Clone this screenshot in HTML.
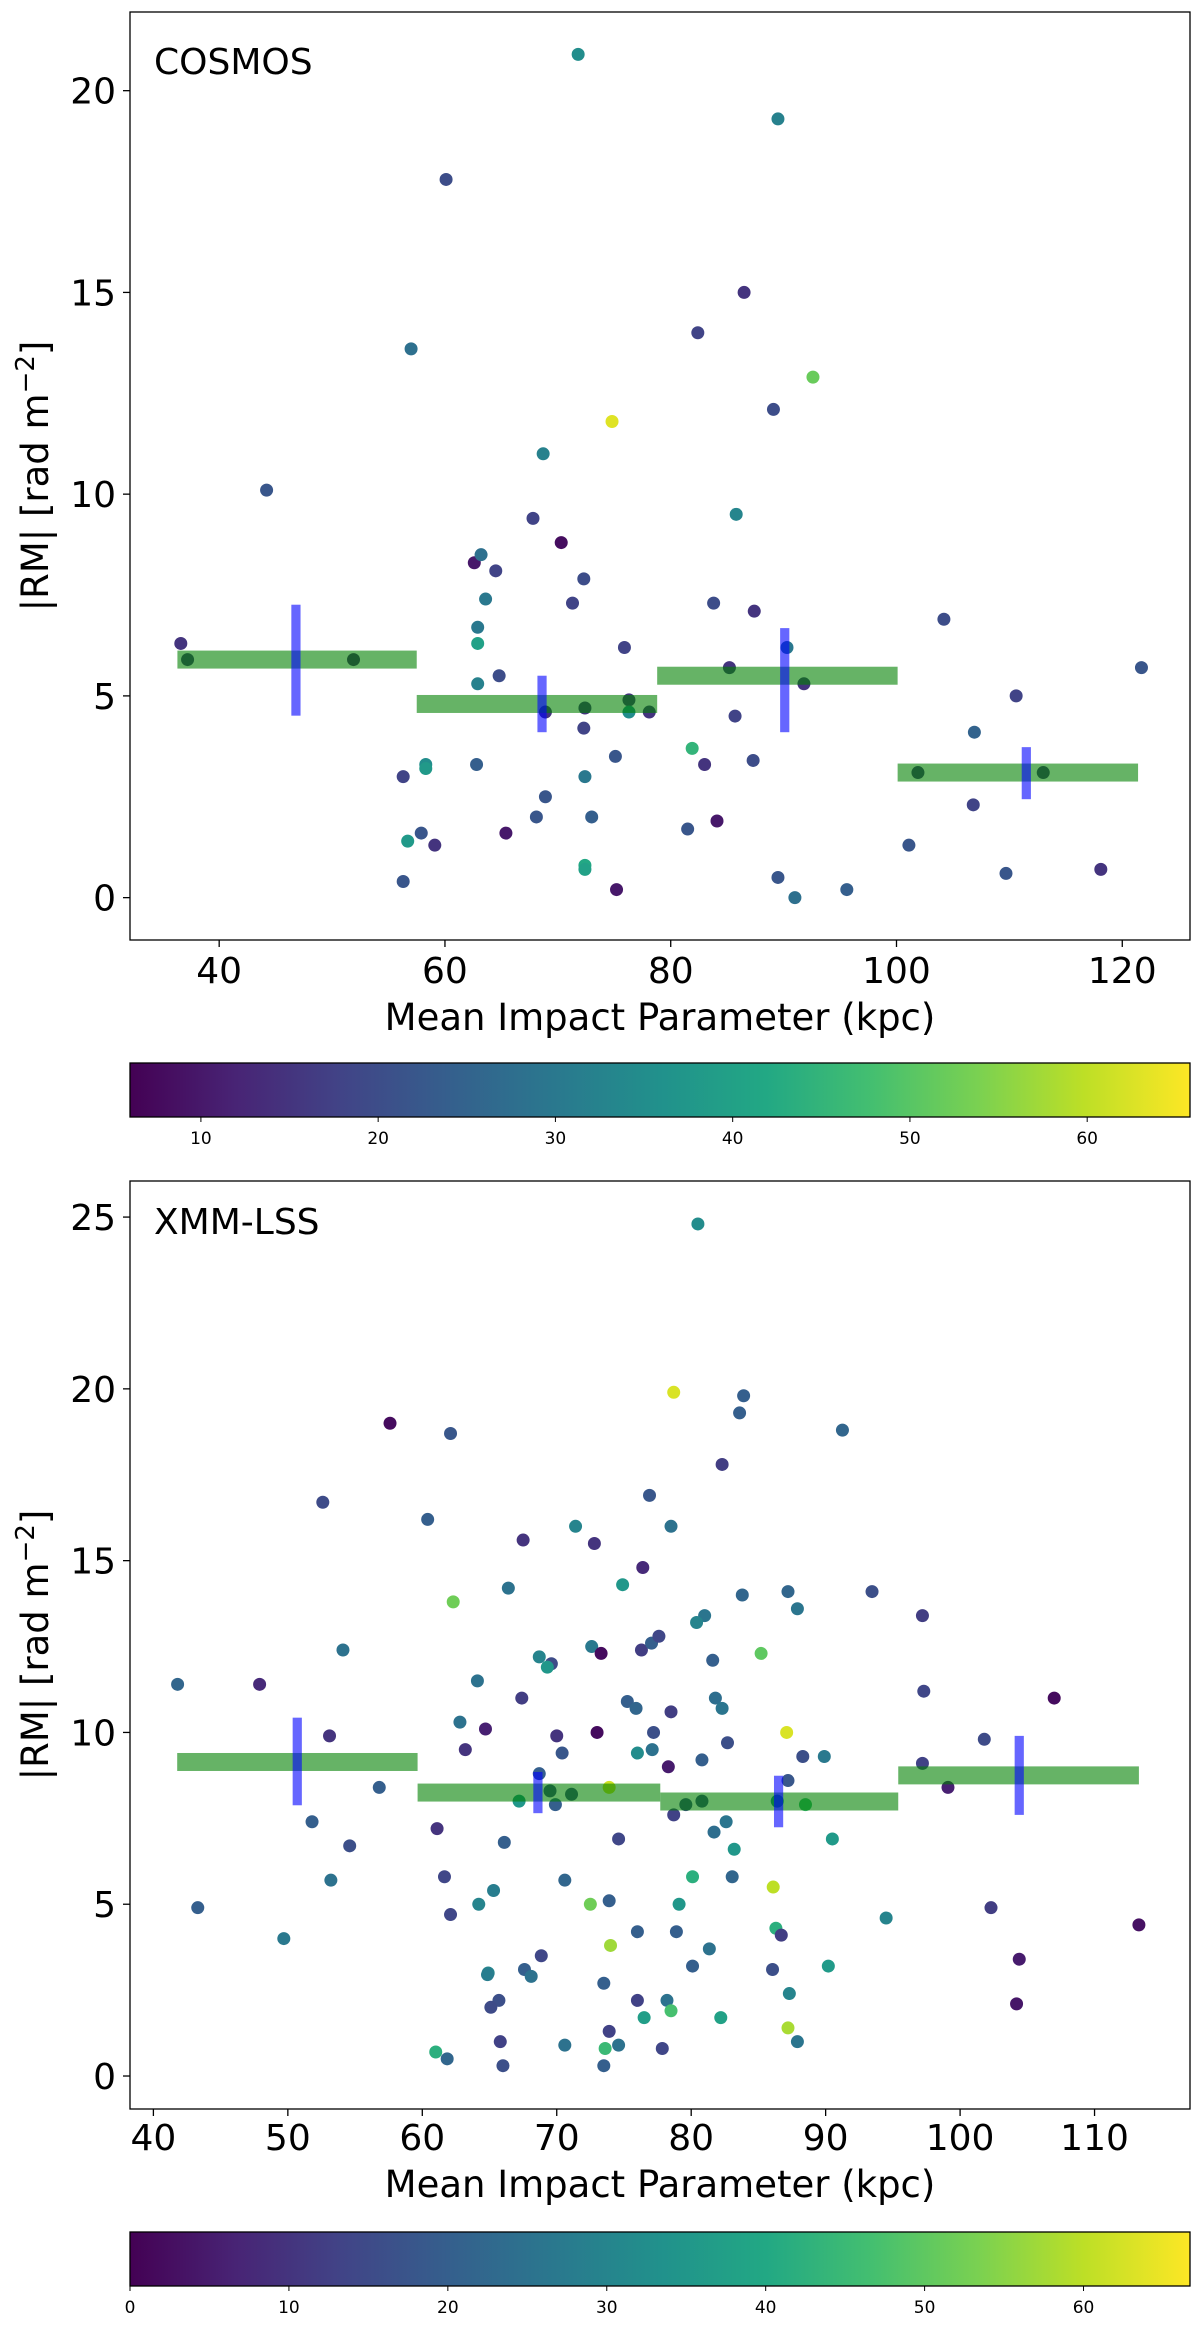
<!DOCTYPE html>
<html><head><meta charset="utf-8"><style>
html,body{margin:0;padding:0;background:#fff;}
svg{display:block;font-family:"DejaVu Sans","Liberation Sans",sans-serif;}
</style></head><body>
<svg id="fig" width="1200" height="2331" viewBox="0 0 1200 2331" xmlns="http://www.w3.org/2000/svg"></svg>
<script>
// ---------- COSMOS data ----------
const cosmosX = [36.6,37.2,44.2,51.9,56.3,56.3,56.7,57.0,57.9,58.3,58.3,59.1,60.1,62.6,63.2,62.9,62.9,62.9,62.8,63.6,64.5,64.8,65.4,67.8,68.1,68.7,68.9,68.9,70.3,71.3,71.8,72.3,72.3,72.4,72.4,72.4,72.4,73.0,74.8,75.1,75.2,75.9,76.3,76.3,78.1,81.9,81.5,82.4,83.0,83.8,84.1,85.2,85.7,85.8,86.5,87.3,87.4,89.1,89.5,89.5,90.3,91.0,91.8,92.6,95.6,101.1,101.9,104.2,106.8,106.9,109.7,110.6,113.0,118.1,121.7];
const cosmosRM = [6.3,5.9,10.1,5.9,3.0,0.4,1.4,13.6,1.6,3.3,3.2,1.3,17.8,8.3,8.5,6.7,6.3,5.3,3.3,7.4,8.1,5.5,1.6,9.4,2.0,11.0,4.6,2.5,8.8,7.3,20.9,7.9,4.2,4.7,3.0,0.8,0.7,2.0,11.8,3.5,0.2,6.2,4.9,4.6,4.6,3.7,1.7,14.0,3.3,7.3,1.9,5.7,4.5,9.5,15.0,3.4,7.1,12.1,19.3,0.5,6.2,0.0,5.3,12.9,0.2,1.3,3.1,6.9,2.3,4.1,0.6,5.0,3.1,0.7,5.7];
const cosmosC = [15,15,22,12,18,22,38,28,22,35,38,15,20,10,28,30,40,32,24,30,18,20,10,18,22,32,15,22,8,18,35,20,18,15,30,42,40,24,63,22,10,18,15,35,15,45,22,18,15,20,10,15,18,33,15,20,15,20,32,22,30,28,15,52,24,22,15,20,18,25,22,18,15,15,22];
const cosmosBinLo = [36.3,57.5,78.8,100.1];
const cosmosBinHi = [57.5,78.8,100.1,121.4];
const cosmosBinMean = [5.9,4.8,5.5,3.1];
const cosmosErrX = [46.8,68.6,90.1,111.5];
const cosmosErrLo = [4.51,4.1,4.1,2.44];
const cosmosErrHi = [7.26,5.5,6.68,3.73];
const cosmosXTicks = [40,60,80,100,120];
const cosmosYTicks = [0,5,10,15,20];
const cosmosCTicks = [10,20,30,40,50,60];

// ---------- XMM-LSS data ----------
const xmmX = [57.6,62.1,52.6,60.4,76.9,78.5,71.4,67.5,72.8,76.4,74.9,66.4,62.3,54.1,72.6,73.3,76.3,77.05,77.6,68.7,69.6,69.3,41.8,47.9,64.1,67.4,75.25,75.9,78.5,62.8,64.7,70.0,73.0,77.2,53.1,63.2,70.4,76.0,77.1,78.3,68.7,69.5,71.1,73.9,67.2,69.9,56.8,51.8,61.1,66.1,74.6,54.6,53.2,61.65,70.6,65.3,64.2,72.5,73.9,43.3,62.1,49.7,76.0,74.0,68.85,64.9,64.85,67.6,68.1,73.5,65.7,65.1,76.0,76.5,78.2,78.5,73.9,65.8,61.0,61.85,70.6,73.6,74.6,77.85,66.0,73.5,80.5,78.7,83.9,83.6,91.25,82.3,83.8,87.2,93.45,87.9,97.2,81.0,80.4,81.6,85.2,81.8,82.3,87.1,82.7,80.8,88.3,89.9,97.3,107.0,101.8,97.2,99.1,87.2,79.6,80.8,86.4,88.5,78.7,82.6,81.7,83.2,90.5,80.1,83.05,86.1,79.1,78.9,86.3,86.7,94.5,102.3,113.3,81.35,80.1,86.05,90.2,104.4,87.3,104.2,82.2,87.2,87.9];
const xmmRM = [19.0,18.7,16.7,16.2,16.9,16.0,16.0,15.6,15.5,14.8,14.3,14.2,13.8,12.4,12.5,12.3,12.4,12.6,12.8,12.2,12.0,11.9,11.4,11.4,11.5,11.0,10.9,10.7,10.6,10.3,10.1,9.9,10.0,10.0,9.9,9.5,9.4,9.4,9.5,9.0,8.8,8.3,8.2,8.4,8.0,7.9,8.4,7.4,7.2,6.8,6.9,6.7,5.7,5.8,5.7,5.4,5.0,5.0,5.1,4.9,4.7,4.0,4.2,3.8,3.5,3.0,2.95,3.1,2.9,2.7,2.2,2.0,2.2,1.7,2.2,1.9,1.3,1.0,0.7,0.5,0.9,0.8,0.9,0.8,0.3,0.3,24.8,19.9,19.8,19.3,18.8,17.8,14.0,14.1,14.1,13.6,13.4,13.4,13.2,12.1,12.3,11.0,10.7,10.0,9.7,9.2,9.3,9.3,11.2,11.0,9.8,9.1,8.4,8.6,7.9,8.0,8.0,7.9,7.6,7.4,7.1,6.6,6.9,5.8,5.8,5.5,5.0,4.2,4.3,4.1,4.6,4.9,4.4,3.7,3.2,3.1,3.2,3.4,2.4,2.1,1.7,1.4,1.0];
const xmmC = [2,18,15,20,18,25,30,10,10,8,35,25,52,25,27,2,12,20,14,30,15,35,22,8,25,12,20,22,12,25,6,10,2,16,10,10,18,32,25,5,20,15,15,62,35,20,20,20,10,20,14,16,25,14,22,28,30,52,20,20,14,27,20,57,14,30,28,20,25,20,16,15,13,37,25,47,13,13,42,22,25,45,25,14,16,20,32,63,20,20,22,12,22,22,16,26,12,26,30,20,50,24,26,63,16,20,16,27,14,2,15,13,6,18,15,15,32,45,13,26,24,35,36,42,22,60,35,20,42,12,30,12,3,25,20,16,36,5,30,4,38,58,26];
const xmmBinLo = [41.77,59.65,77.7,95.4];
const xmmBinHi = [59.65,77.7,95.4,113.3];
const xmmBinMean = [9.14,8.25,7.99,8.75];
const xmmErrX = [50.7,68.6,86.5,104.4];
const xmmErrLo = [7.88,7.65,7.24,7.6];
const xmmErrHi = [10.43,8.85,8.74,9.9];
const xmmXTicks = [40,50,60,70,80,90,100,110];
const xmmYTicks = [0,5,10,15,20,25];
const xmmCTicks = [0,10,20,30,40,50,60];

// ---------- helpers ----------
const NS = "http://www.w3.org/2000/svg";
const svg = document.getElementById('fig');
function mk(tag, attrs, parent){
  const e = document.createElementNS(NS, tag);
  for (const k in attrs) e.setAttribute(k, attrs[k]);
  (parent||svg).appendChild(e);
  return e;
}
const VIR = ["#440154","#482475","#414487","#355f8d","#2a788e","#21918c","#22a884","#44bf70","#7ad151","#bddf26","#fde725"];
function hex2rgb(h){return [parseInt(h.substr(1,2),16),parseInt(h.substr(3,2),16),parseInt(h.substr(5,2),16)];}
function viridis(t){
  t=Math.max(0,Math.min(1,t));
  const p=t*10, i=Math.min(9,Math.floor(p)), f=p-i;
  const a=hex2rgb(VIR[i]), b=hex2rgb(VIR[i+1]);
  return "rgb("+a.map((v,k)=>Math.round(v+(b[k]-v)*f)).join(",")+")";
}

function panel(cfg){
  const L=130,R=1190,T=cfg.top,B=cfg.bottom;
  const sx=v=>L+(v-cfg.xmin)/(cfg.xmax-cfg.xmin)*(R-L);
  const sy=v=>B-(v-cfg.ymin)/(cfg.ymax-cfg.ymin)*(B-T);
  const g=mk('g',{});
  
  

  // points
  const pts=mk('g',{},g);
  
  
  const n=Math.min(cfg.xs.length,cfg.ys.length,cfg.cs.length);
  for(let i=0;i<n;i++){
    const c=mk('circle',{cx:sx(cfg.xs[i]),cy:sy(cfg.ys[i]),r:6.5,fill:viridis((cfg.cs[i]-cfg.cmin)/(cfg.cmax-cfg.cmin))},pts);
    
    
  }
  // bin bars
  for(let i=0;i<cfg.binLo.length;i++){
    const r=mk('rect',{x:sx(cfg.binLo[i]),y:sy(cfg.binMean[i])-9,width:sx(cfg.binHi[i])-sx(cfg.binLo[i]),height:18,fill:'#008000','fill-opacity':0.6},g);
    
    
  }
  for(let i=0;i<cfg.errX.length;i++){
    const r=mk('rect',{x:sx(cfg.errX[i])-4.6,y:sy(cfg.errHi[i]),width:9.2,height:sy(cfg.errLo[i])-sy(cfg.errHi[i]),fill:'#0000ff','fill-opacity':0.6},g);
    
    
  }
  // frame
  const fr=mk('rect',{x:L,y:T,width:R-L,height:B-T,fill:'none',stroke:'#000','stroke-width':1.3},g);
  
  
  // x ticks
  cfg.xticks.forEach(v=>{
    const x=sx(v);
    const tk=mk('line',{x1:x,x2:x,y1:B,y2:B+7,stroke:'#000','stroke-width':1.3},g);
    
    
    const t=mk('text',{x:x,y:cfg.xTickBase,'text-anchor':'middle','font-size':36},g);
    t.textContent=v;
    
    
  });
  cfg.yticks.forEach(v=>{
    const y=sy(v);
    const tk=mk('line',{x1:L-7,x2:L,y1:y,y2:y,stroke:'#000','stroke-width':1.3},g);
    
    
    const t=mk('text',{x:L-14,y:y+13,'text-anchor':'end','font-size':36},g);
    t.textContent=v;
    
    
  });
  // labels
  const xl=mk('text',{x:(L+R)/2,y:cfg.xLabelBase,'text-anchor':'middle','font-size':37},g);
  xl.textContent='Mean Impact Parameter (kpc)';
  
  
  const cy=(T+B)/2;
  const yl=mk('text',{x:0,y:0,'text-anchor':'middle','font-size':37,transform:'translate(48,'+cy+') rotate(-90)'},g);
  yl.innerHTML='|RM| [rad m<tspan dy="-14" font-size="26">−2</tspan><tspan dy="14">]</tspan>';
  
  
  const pl=mk('text',{x:154,y:cfg.titleBase,'font-size':36},g);
  pl.textContent=cfg.title;
  
  

  // colorbar
  const cb=mk('g',{},svg);
  
  
  const gid='grad-'+cfg.name;
  const defs=mk('defs',{},cb);
  const lg=mk('linearGradient',{id:gid,x1:0,x2:1,y1:0,y2:0},defs);
  VIR.forEach((c,i)=>mk('stop',{offset:(i/10),'stop-color':c},lg));
  const cr=mk('rect',{x:L,y:cfg.cbTop,width:R-L,height:cfg.cbBot-cfg.cbTop,fill:'url(#'+gid+')',stroke:'#000','stroke-width':1.3},cb);
  
  
  const sc=v=>L+(v-cfg.cmin)/(cfg.cmax-cfg.cmin)*(R-L);
  cfg.cticks.forEach(v=>{
    const x=sc(v);
    const tk=mk('line',{x1:x,x2:x,y1:cfg.cbBot,y2:cfg.cbBot+5,stroke:'#000','stroke-width':1},cb);
    
    
    const t=mk('text',{x:x,y:cfg.cbBot+27,'text-anchor':'middle','font-size':17},cb);
    t.textContent=v;
    
    
  });
}

panel({name:'cosmos',title:'COSMOS',top:12,bottom:940,xmin:32.1,xmax:126.0,ymin:-1.05,ymax:21.95,
  xs:cosmosX,ys:cosmosRM,cs:cosmosC,cmin:6.0,cmax:65.8,
  binLo:cosmosBinLo,binHi:cosmosBinHi,binMean:cosmosBinMean,errX:cosmosErrX,errLo:cosmosErrLo,errHi:cosmosErrHi,
  xticks:cosmosXTicks,yticks:cosmosYTicks,cticks:cosmosCTicks,
  xTickBase:983,xLabelBase:1030,titleBase:74,cbTop:1063,cbBot:1117});
panel({name:'xmm-lss',title:'XMM-LSS',top:1181,bottom:2109,xmin:38.26,xmax:117.1,ymin:-0.96,ymax:26.05,
  xs:xmmX,ys:xmmRM,cs:xmmC,cmin:0,cmax:66.7,
  binLo:xmmBinLo,binHi:xmmBinHi,binMean:xmmBinMean,errX:xmmErrX,errLo:xmmErrLo,errHi:xmmErrHi,
  xticks:xmmXTicks,yticks:xmmYTicks,cticks:xmmCTicks,
  xTickBase:2150,xLabelBase:2197,titleBase:1234,cbTop:2232,cbBot:2286});
</script>
</body></html>
